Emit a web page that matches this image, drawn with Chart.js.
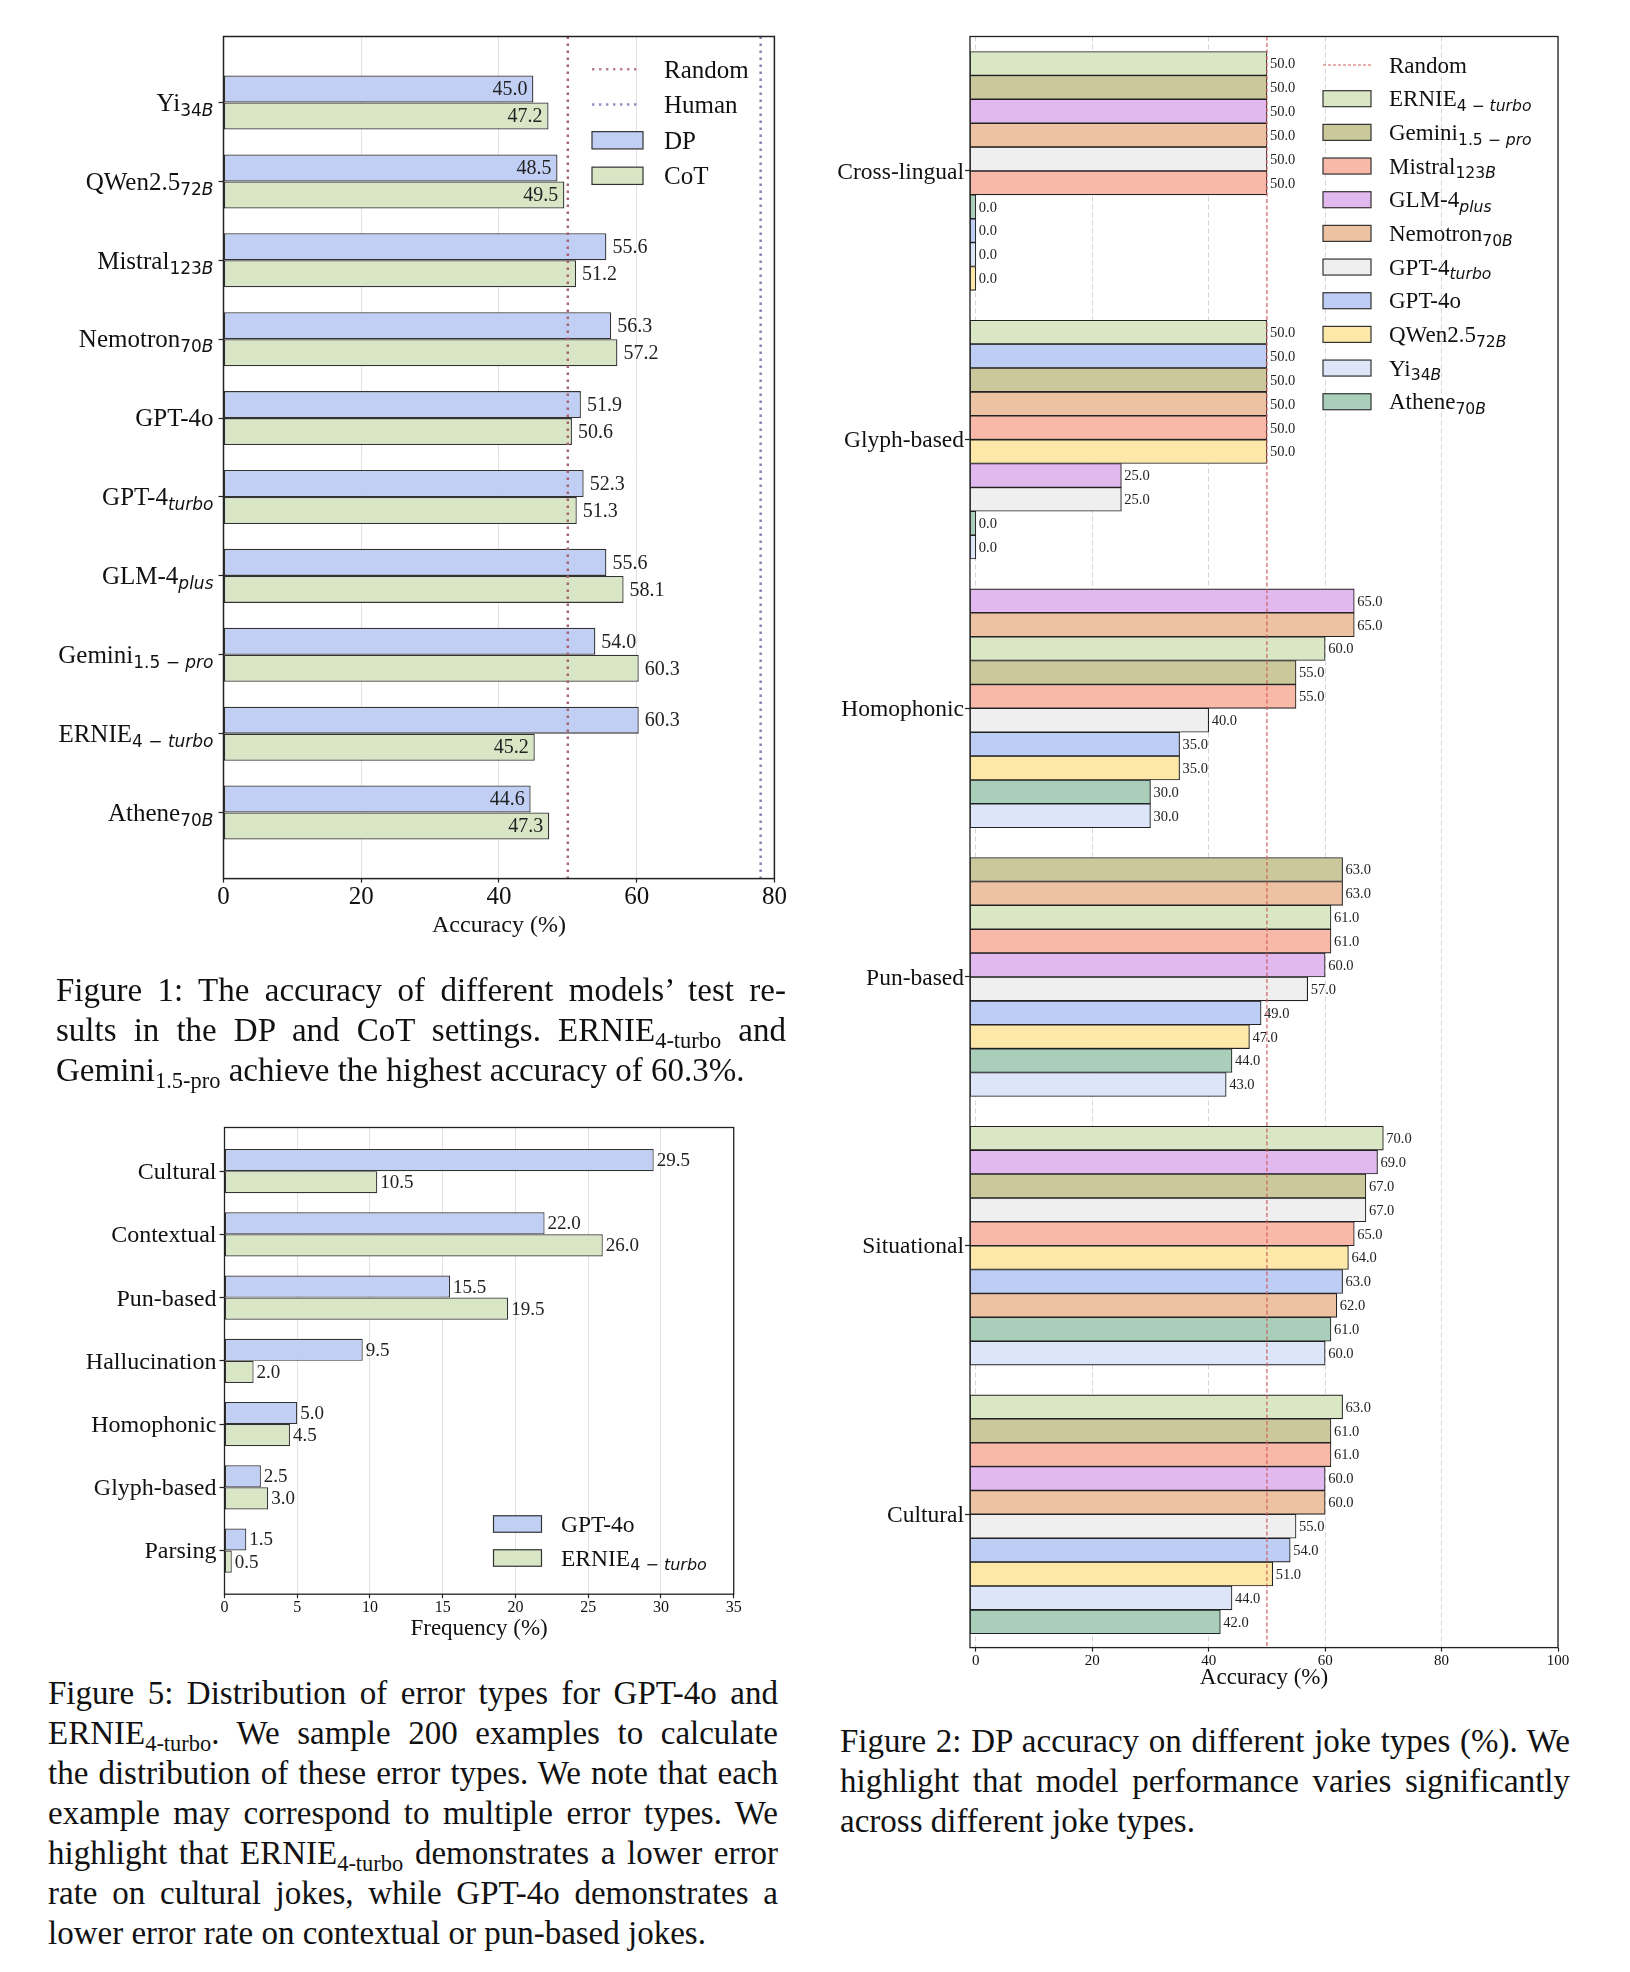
<!DOCTYPE html>
<html>
<head>
<meta charset="utf-8">
<script src="https://cdn.jsdelivr.net/npm/chart.js@4.4.1/dist/chart.umd.min.js"></script>
<style>
  body { margin: 0; background: #fff; width: 1630px; height: 1972px; position: relative; overflow: hidden;
         font-family: "Liberation Serif", "Times New Roman", serif; color: #111; }
  canvas { position: absolute; }
  .cap { position: absolute; font-size: 33px; width: 730px; }
  .cap div { height: 40px; line-height: 40px; white-space: nowrap; }
  .cap div.j { text-align: justify; text-align-last: justify; }
  .cap sub { font-size: 0.68em; vertical-align: -0.3em; line-height: 0; }
</style>
</head>
<body>
<canvas id="fig1" width="815" height="960" style="left:0;top:0;width:815px;height:960px"></canvas>
<canvas id="fig5" width="815" height="580" style="left:0;top:1080px;width:815px;height:580px"></canvas>
<canvas id="fig2" width="815" height="1710" style="left:815px;top:0;width:815px;height:1710px"></canvas>

<div class="cap" style="left:56px;top:970px">
  <div class="j">Figure 1: The accuracy of different models’ test re-</div>
  <div class="j">sults in the DP and CoT settings. ERNIE<sub>4-turbo</sub> and</div>
  <div>Gemini<sub>1.5-pro</sub> achieve the highest accuracy of 60.3%.</div>
</div>
<div class="cap" style="left:48px;top:1673px">
  <div class="j">Figure 5: Distribution of error types for GPT-4o and</div>
  <div class="j">ERNIE<sub>4-turbo</sub>. We sample 200 examples to calculate</div>
  <div class="j">the distribution of these error types. We note that each</div>
  <div class="j">example may correspond to multiple error types. We</div>
  <div class="j">highlight that ERNIE<sub>4-turbo</sub> demonstrates a lower error</div>
  <div class="j">rate on cultural jokes, while GPT-4o demonstrates a</div>
  <div>lower error rate on contextual or pun-based jokes.</div>
</div>
<div class="cap" style="left:840px;top:1721px">
  <div class="j">Figure 2: DP accuracy on different joke types (%). We</div>
  <div class="j">highlight that model performance varies significantly</div>
  <div>across different joke types.</div>
</div>

<script>
// ---------- Figure 1: DP vs CoT accuracy ----------
const fig1Models = ['Yi_34B', 'QWen2.5_72B', 'Mistral_123B', 'Nemotron_70B', 'GPT-4o',
  'GPT-4_turbo', 'GLM-4_plus', 'Gemini_1.5 − pro', 'ERNIE_4 − turbo', 'Athene_70B'];
const fig1DP = [45.0, 48.5, 55.6, 56.3, 51.9, 52.3, 55.6, 54.0, 60.3, 44.6];
const fig1CoT = [47.2, 49.5, 51.2, 57.2, 50.6, 51.3, 58.1, 60.3, 45.2, 47.3];
const fig1Random = 50;
const fig1Human = 78;
const fig1XTicks = [0, 20, 40, 60, 80];

// ---------- Figure 5: error types ----------
const errorTypes = ['Cultural', 'Contextual', 'Pun-based', 'Hallucination', 'Homophonic', 'Glyph-based', 'Parsing'];
const errGPT4o = [29.5, 22.0, 15.5, 9.5, 5.0, 2.5, 1.5];
const errERNIE = [10.5, 26.0, 19.5, 2.0, 4.5, 3.0, 0.5];
const fig5XTicks = [0, 5, 10, 15, 20, 25, 30, 35];

// ---------- Figure 2: DP accuracy by joke type ----------
const fig2Keys = ['ERNIE', 'Gemini', 'Mistral', 'GLM', 'Nemotron', 'GPT-4turbo', 'GPT-4o', 'QWen', 'Yi', 'Athene'];
const fig2Labels = ['ERNIE_4 − turbo', 'Gemini_1.5 − pro', 'Mistral_123B', 'GLM-4_plus', 'Nemotron_70B',
  'GPT-4_turbo', 'GPT-4o', 'QWen2.5_72B', 'Yi_34B', 'Athene_70B'];
const fig2Colors = ['#d9e7c5', '#cbc99b', '#f9b9a9', '#e1b9ee', '#ecc2a3', '#efefef', '#bdcdf4', '#fde8a9', '#dde5f9', '#a9cfbb'];
const jokeTypes = ['Cross-lingual', 'Glyph-based', 'Homophonic', 'Pun-based', 'Situational', 'Cultural'];
const crossLingualOrder = ['ERNIE', 'Gemini', 'GLM', 'Nemotron', 'GPT-4turbo', 'Mistral', 'Athene', 'GPT-4o', 'Yi', 'QWen'];
const crossLingualScores = [50, 50, 50, 50, 50, 50, 0, 0, 0, 0];
const glyphOrder = ['ERNIE', 'GPT-4o', 'Gemini', 'Nemotron', 'Mistral', 'QWen', 'GLM', 'GPT-4turbo', 'Athene', 'Yi'];
const glyphScores = [50, 50, 50, 50, 50, 50, 25, 25, 0, 0];
const homophonicOrder = ['GLM', 'Nemotron', 'ERNIE', 'Gemini', 'Mistral', 'GPT-4turbo', 'GPT-4o', 'QWen', 'Athene', 'Yi'];
const homophonicScores = [65, 65, 60, 55, 55, 40, 35, 35, 30, 30];
const punOrder = ['Gemini', 'Nemotron', 'ERNIE', 'Mistral', 'GLM', 'GPT-4turbo', 'GPT-4o', 'QWen', 'Athene', 'Yi'];
const punScores = [63, 63, 61, 61, 60, 57, 49, 47, 44, 43];
const situationalOrder = ['ERNIE', 'GLM', 'Gemini', 'GPT-4turbo', 'Mistral', 'QWen', 'GPT-4o', 'Nemotron', 'Athene', 'Yi'];
const situationalScores = [70, 69, 67, 67, 65, 64, 63, 62, 61, 60];
const culturalOrder = ['ERNIE', 'Gemini', 'Mistral', 'GLM', 'Nemotron', 'GPT-4turbo', 'GPT-4o', 'QWen', 'Yi', 'Athene'];
const culturalScores = [63, 61, 61, 60, 60, 55, 54, 51, 44, 42];
const fig2Random = 50;
const fig2XTicks = [0, 20, 40, 60, 80, 100];

const SERIF = '"Liberation Serif", "Times New Roman", serif';
const GROUP_STRIDE = 11.25;  // bar slots per joke type, incl. gap

Chart.defaults.font.family = SERIF;
Chart.defaults.color = '#111';

// label like "Yi_34B": main text in serif, subscript mathtext-style (letters italic)
function drawRich(ctx, label, x, yMid, size, align) {
  const [main, sub] = label.split('_');
  const mainFont = size + 'px ' + SERIF;
  const subSize = size * 0.68;
  const runs = [];
  ctx.save();
  ctx.font = mainFont;
  const mainW = ctx.measureText(main).width;
  let total = mainW;
  if (sub) {
    (sub.match(/[A-Za-z]+|[^A-Za-z]+/g) || []).forEach(t => {
      const font = (/[A-Za-z]/.test(t) ? 'italic ' : '') + subSize.toFixed(1) + 'px "DejaVu Sans", sans-serif';
      ctx.font = font;
      const w = ctx.measureText(t).width;
      runs.push({ t, font, w });
      total += w;
    });
  }
  let cx = align === 'right' ? x - total : x;
  const base = yMid + size * 0.33;
  ctx.fillStyle = '#111';
  ctx.textAlign = 'left';
  ctx.textBaseline = 'alphabetic';
  ctx.font = mainFont;
  ctx.fillText(main, cx, base);
  cx += mainW;
  runs.forEach(r => {
    ctx.font = r.font;
    ctx.fillText(r.t, cx, base + size * 0.2);
    cx += r.w;
  });
  ctx.restore();
}

function frame(ctx, a, lw) {
  ctx.save();
  ctx.strokeStyle = '#222';
  ctx.lineWidth = lw;
  ctx.strokeRect(a.left, a.top, a.right - a.left, a.bottom - a.top);
  ctx.restore();
}

function vLine(chart, value, color, dash, lw) {
  const { ctx, chartArea: a } = chart;
  const x = chart.scales.x.getPixelForValue(value);
  ctx.save();
  ctx.strokeStyle = color;
  ctx.lineWidth = lw;
  ctx.setLineDash(dash);
  ctx.beginPath();
  ctx.moveTo(x, a.top);
  ctx.lineTo(x, a.bottom);
  ctx.stroke();
  ctx.restore();
}

function legendLine(ctx, x0, x1, y, color, dash, lw) {
  ctx.save();
  ctx.strokeStyle = color;
  ctx.lineWidth = lw;
  ctx.setLineDash(dash);
  ctx.beginPath();
  ctx.moveTo(x0, y);
  ctx.lineTo(x1, y);
  ctx.stroke();
  ctx.restore();
}

function legendPatch(ctx, x0, x1, y, h, color) {
  ctx.save();
  ctx.fillStyle = color;
  ctx.strokeStyle = '#333';
  ctx.lineWidth = 1.2;
  ctx.fillRect(x0, y - h / 2, x1 - x0, h);
  ctx.strokeRect(x0, y - h / 2, x1 - x0, h);
  ctx.restore();
}

function valueLabels(chart, size, gap, insideBelow) {
  const ctx = chart.ctx;
  ctx.save();
  ctx.font = size + 'px ' + SERIF;
  ctx.fillStyle = '#222';
  ctx.textBaseline = 'middle';
  chart.data.datasets.forEach((ds, di) => {
    chart.getDatasetMeta(di).data.forEach((bar, i) => {
      const v = ds.data[i].x;
      const inside = insideBelow !== null && v < insideBelow;
      ctx.textAlign = inside ? 'right' : 'left';
      ctx.fillText(v.toFixed(1), inside ? bar.x - gap : bar.x + gap, bar.y + 1);
    });
  });
  ctx.restore();
}

function baseOptions(pad, yWidth, xHeight) {
  return {
    indexAxis: 'y',
    responsive: false,
    animation: false,
    layout: { padding: { top: pad.top, right: pad.right, left: 0, bottom: 0 } },
    plugins: { legend: { display: false }, tooltip: { enabled: false } },
    scales: {
      x: {
        type: 'linear',
        offset: false,
        afterFit: s => { s.height = xHeight; },
        border: { display: false },
        grid: { offset: false, color: '#e2e2e2', lineWidth: 1, tickColor: '#222', tickLength: 4, tickWidth: 1.2 },
        ticks: { color: '#111', padding: 0, maxRotation: 0, autoSkip: false }
      },
      y: {
        type: 'linear',
        reverse: true,
        offset: false,
        afterFit: s => { s.width = yWidth; },
        border: { display: false },
        grid: { offset: false, drawOnChartArea: false, tickColor: '#222', tickLength: 5, tickWidth: 1.2 },
        ticks: { callback: () => '', autoSkip: false, padding: 0 }
      }
    }
  };
}

// ---------- Figure 1 ----------
const opt1 = baseOptions({ top: 36.5, right: 40.6 }, 223.5, 81.4);
Object.assign(opt1.scales.x, {
  min: 0, max: 80,
  afterBuildTicks: s => { s.ticks = fig1XTicks.map(v => ({ value: v })); },
  title: { display: true, text: 'Accuracy (%)', font: { size: 24 }, color: '#111', padding: { top: 0, bottom: 19.6 } }
});
opt1.scales.x.ticks.font = { size: 25 };
Object.assign(opt1.scales.y, {
  min: -0.837, max: 9.837,
  afterBuildTicks: s => { s.ticks = fig1Models.map((_, i) => ({ value: i })); }
});

new Chart(document.getElementById('fig1'), {
  type: 'bar',
  data: {
    datasets: [
      { label: 'DP', data: fig1DP.map((v, i) => ({ x: v, y: i })), backgroundColor: '#c1cff5',
        borderColor: '#333', borderWidth: 1.3, borderSkipped: false, categoryPercentage: 0.685, barPercentage: 1 },
      { label: 'CoT', data: fig1CoT.map((v, i) => ({ x: v, y: i })), backgroundColor: '#d8e6c5',
        borderColor: '#333', borderWidth: 1.3, borderSkipped: false, categoryPercentage: 0.685, barPercentage: 1 }
    ]
  },
  options: opt1,
  plugins: [{
    id: 'fig1Extras',
    afterDatasetsDraw(chart) {
      const ctx = chart.ctx;
      valueLabels(chart, 20, 6, fig1Random);
      vLine(chart, fig1Random, '#a8606e', [2.4, 4.6], 2.4);
      vLine(chart, fig1Human, '#8a78b0', [2.4, 4.6], 2.4);
      frame(ctx, chart.chartArea, 1.5);
      const ys = chart.scales.y;
      fig1Models.forEach((m, i) => drawRich(ctx, m, chart.chartArea.left - 10, ys.getPixelForValue(i), 25, 'right'));
      // legend
      legendLine(ctx, 592, 641, 69.3, '#b9808e', [2.4, 4.6], 2.4);
      legendLine(ctx, 592, 641, 104.5, '#9090c0', [2.4, 4.6], 2.4);
      legendPatch(ctx, 592, 643, 140.3, 17.3, '#c1cff5');
      legendPatch(ctx, 592, 643, 175.8, 17.3, '#d8e6c5');
      ['Random', 'Human', 'DP', 'CoT'].forEach((t, k) => drawRich(ctx, t, 664, [69.3, 104.5, 140.3, 175.8][k], 25, 'left'));
    }
  }]
});

// ---------- Figure 5 ----------
const opt5 = baseOptions({ top: 47.5, right: 81.3 }, 224.5, 65.8);
Object.assign(opt5.scales.x, {
  min: 0, max: 35,
  afterBuildTicks: s => { s.ticks = fig5XTicks.map(v => ({ value: v })); },
  title: { display: true, text: 'Frequency (%)', font: { size: 23 }, color: '#111', padding: { top: 0, bottom: 17.4 } }
});
opt5.scales.x.ticks.font = { size: 16 };
Object.assign(opt5.scales.y, {
  min: -0.69, max: 6.69,
  afterBuildTicks: s => { s.ticks = errorTypes.map((_, i) => ({ value: i })); }
});

new Chart(document.getElementById('fig5'), {
  type: 'bar',
  data: {
    datasets: [
      { label: 'GPT-4o', data: errGPT4o.map((v, i) => ({ x: v, y: i })), backgroundColor: '#c1cff5',
        borderColor: '#333', borderWidth: 1.2, borderSkipped: false, categoryPercentage: 0.70, barPercentage: 1 },
      { label: 'ERNIE', data: errERNIE.map((v, i) => ({ x: v, y: i })), backgroundColor: '#d8e6c5',
        borderColor: '#333', borderWidth: 1.2, borderSkipped: false, categoryPercentage: 0.70, barPercentage: 1 }
    ]
  },
  options: opt5,
  plugins: [{
    id: 'fig5Extras',
    afterDatasetsDraw(chart) {
      const ctx = chart.ctx;
      valueLabels(chart, 19, 3, null);
      frame(ctx, chart.chartArea, 1.3);
      const ys = chart.scales.y;
      errorTypes.forEach((t, i) => drawRich(ctx, t, chart.chartArea.left - 8, ys.getPixelForValue(i), 24, 'right'));
      legendPatch(ctx, 493.5, 541.5, 444, 16.5, '#c1cff5');
      legendPatch(ctx, 493.5, 541.5, 478, 16.5, '#d8e6c5');
      drawRich(ctx, 'GPT-4o', 561, 444, 23.5, 'left');
      drawRich(ctx, 'ERNIE_4 − turbo', 561, 478, 23.5, 'left');
    }
  }]
});

// ---------- Figure 2 ----------
const fig2Groups = [
  [crossLingualOrder, crossLingualScores],
  [glyphOrder, glyphScores],
  [homophonicOrder, homophonicScores],
  [punOrder, punScores],
  [situationalOrder, situationalScores],
  [culturalOrder, culturalScores]
];

const fig2Datasets = fig2Keys.map((key, k) => ({
  label: key,
  data: fig2Groups.map(([order, scores], g) => {
    const r = order.indexOf(key);
    return { x: scores[r], y: g * GROUP_STRIDE + r };
  }),
  backgroundColor: fig2Colors[k],
  borderColor: '#222',
  borderWidth: 1.1,
  borderSkipped: false,
  base: -1,
  grouped: false,
  categoryPercentage: 1,
  barPercentage: 1
}));

const opt2 = baseOptions({ top: 36.5, right: 72 }, 155, 62.4);
Object.assign(opt2.scales.x, {
  min: -1, max: 100,
  afterBuildTicks: s => { s.ticks = fig2XTicks.map(v => ({ value: v })); },
  title: { display: true, text: 'Accuracy (%)', font: { size: 23 }, color: '#111', padding: { top: 0, bottom: 18.2 } }
});
opt2.scales.x.ticks.font = { size: 15 };
opt2.scales.x.grid.color = '#d6d6d6';
opt2.scales.x.grid.tickBorderDash = [];
opt2.scales.x.border = { display: false, dash: [5, 3] };
Object.assign(opt2.scales.y, {
  min: -1.13, max: 66.33,
  afterBuildTicks: s => { s.ticks = jokeTypes.map((_, g) => ({ value: g * GROUP_STRIDE + 4.5 })); }
});

new Chart(document.getElementById('fig2'), {
  type: 'bar',
  data: { datasets: fig2Datasets },
  options: opt2,
  plugins: [{
    id: 'fig2Extras',
    afterDatasetsDraw(chart) {
      const ctx = chart.ctx;
      valueLabels(chart, 14.5, 3, null);
      vLine(chart, fig2Random, '#d25f5f', [4, 2.5], 1.2);
      frame(ctx, chart.chartArea, 1.3);
      const ys = chart.scales.y;
      jokeTypes.forEach((t, g) => drawRich(ctx, t, chart.chartArea.left - 6, ys.getPixelForValue(g * GROUP_STRIDE + 4.5), 23.5, 'right'));
      // legend
      legendLine(ctx, 508, 556, 65, '#d25f5f', [3, 2], 1);
      drawRich(ctx, 'Random', 574, 65, 23, 'left');
      fig2Labels.forEach((lab, k) => {
        const y = 98.7 + k * 33.67;
        legendPatch(ctx, 508, 556, y, 16, fig2Colors[k]);
        drawRich(ctx, lab, 574, y, 23, 'left');
      });
    }
  }]
});
</script>
</body>
</html>
